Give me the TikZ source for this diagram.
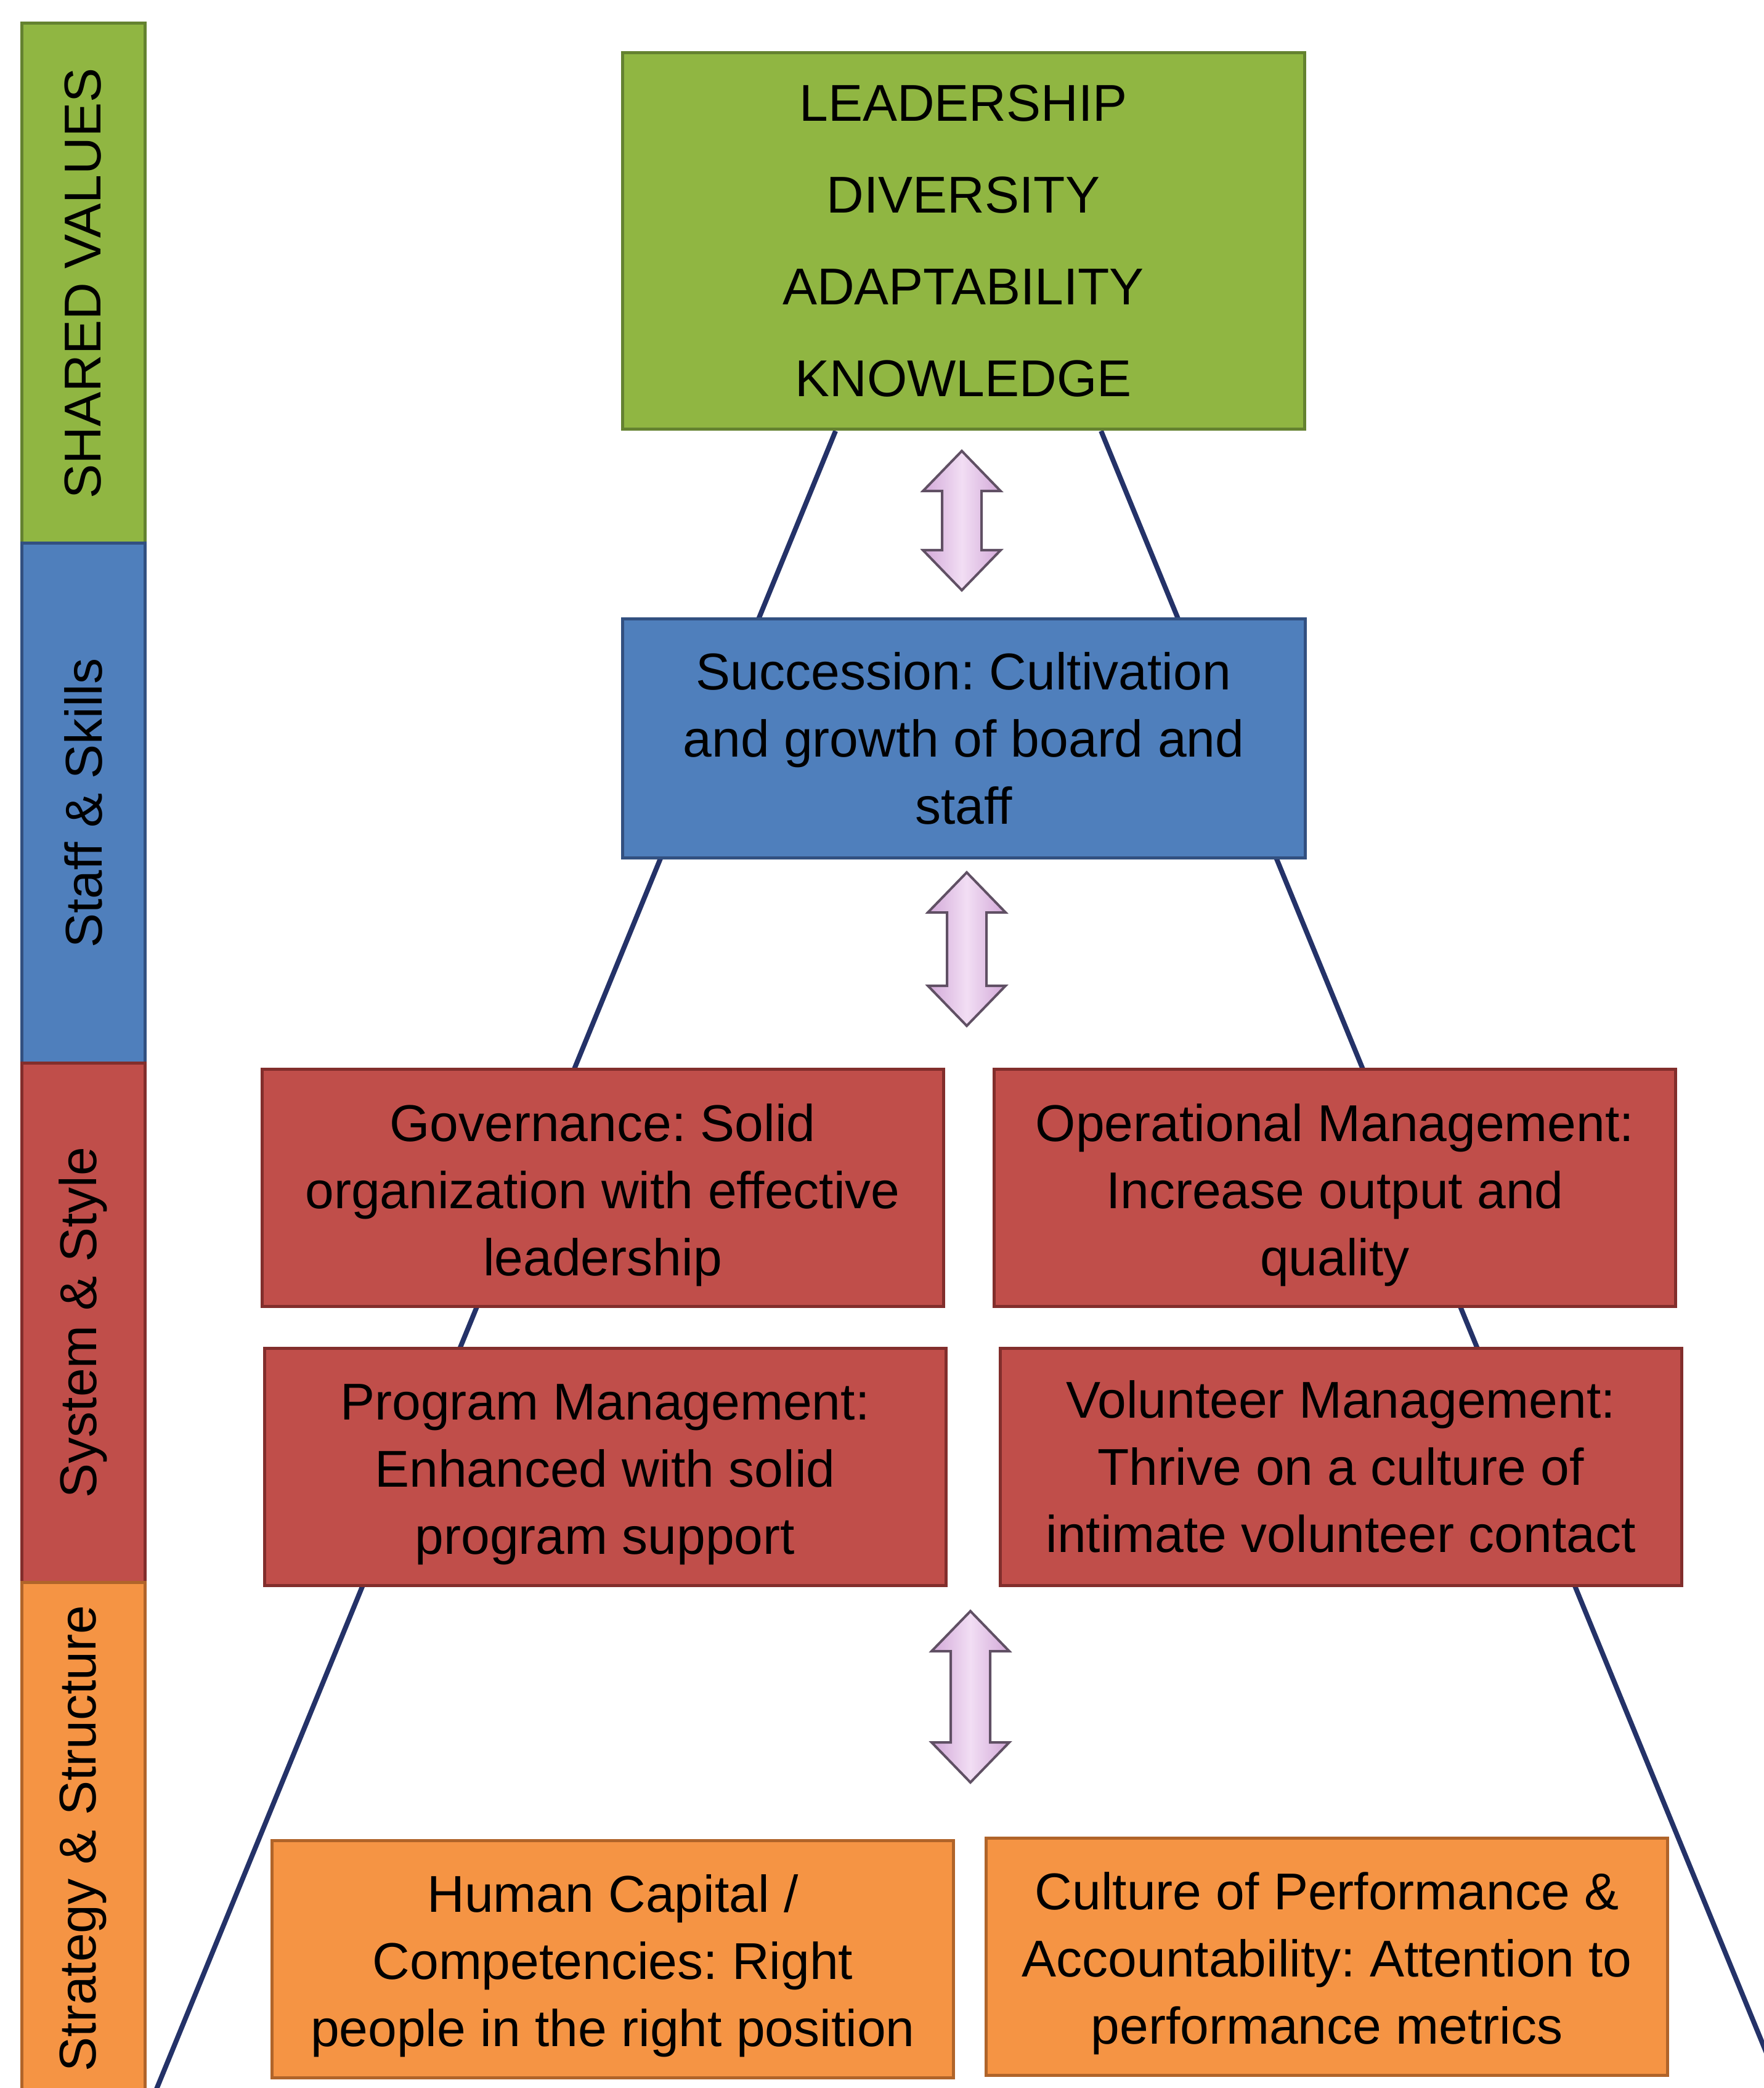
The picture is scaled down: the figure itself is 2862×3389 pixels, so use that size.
\documentclass[tikz,border=0pt]{standalone}
\usepackage{fontspec}
\setmainfont{Liberation Sans}
\usetikzlibrary{calc}
\pgfdeclarelayer{background}
\pgfsetlayers{background,main}
\definecolor{gfill}{RGB}{144,182,66}
\definecolor{gdraw}{RGB}{100,130,48}
\definecolor{bfill}{RGB}{79,127,188}
\definecolor{bdraw}{RGB}{50,80,128}
\definecolor{rfill}{RGB}{192,78,74}
\definecolor{rdraw}{RGB}{130,46,44}
\definecolor{ofill}{RGB}{245,148,68}
\definecolor{odraw}{RGB}{176,100,42}
\definecolor{trunkc}{RGB}{36,50,104}
\definecolor{aedge}{RGB}{210,168,216}
\definecolor{amid}{RGB}{242,222,244}
\definecolor{adraw}{RGB}{96,80,100}
\newcommand\tallstrut{\rule{0pt}{21pt}}
\newcommand\pinkarrow[3]{%
  \draw[parrow] (#1,#2) -- (#1+63,#2+65) -- (#1+32,#2+65) -- (#1+32,#3-65) -- (#1+63,#3-65)
    -- (#1,#3) -- (#1-63,#3-65) -- (#1-32,#3-65) -- (#1-32,#2+65) -- (#1-63,#2+65) -- cycle;}
\begin{document}
\frenchspacing
\begin{tikzpicture}[x=0.25pt,y=-0.25pt,
  txt/.style={font=\fontsize{21}{27.25}\selectfont\frenchspacing, align=center, text=black},
  box/.style={txt, draw, line width=1.25pt, inner sep=0pt,
    minimum width=276.5pt, minimum height=96.25pt},
  greenbox/.style={box, fill=gfill, draw=gdraw},
  bluebox/.style={box, fill=bfill, draw=bdraw},
  redbox/.style={box, fill=rfill, draw=rdraw},
  orangebox/.style={box, fill=ofill, draw=odraw},
  barcell/.style={txt, draw, line width=1.25pt, rotate=90, inner sep=0pt,
    minimum height=50pt},
  trunk/.style={draw=trunkc, line width=2pt},
  parrow/.style={draw=adraw, line width=1pt, line join=miter,
    left color=aedge, right color=aedge, middle color=amid}]
\useasboundingbox (0,0) rectangle (2862,3389);
\clip (0,0) rectangle (2862,3389);

% left category bar
\node[barcell, fill=gfill, draw=gdraw, minimum width=211pt] (barsv) at (135,460) {SHARED VALUES};
\node[barcell, fill=bfill, draw=bdraw, minimum width=210.75pt] (barss) at (135,1303.5) {Staff \& Skills};
\node[barcell, fill=rfill, draw=rdraw, minimum width=210.75pt] (barsy) at (135,2146.5) {System \& Style};
\node[barcell, fill=ofill, draw=odraw, minimum width=208pt] (barst) at (135,2984) {Strategy \& Structure};

% boxes
\node[greenbox, minimum width=276.75pt, minimum height=152.75pt,
  font=\fontsize{21}{37.25}\selectfont] (green) at (1563.5,391.5)
  {LEADERSHIP\\DIVERSITY\\ADAPTABILITY\\KNOWLEDGE};
\node[bluebox, minimum width=277pt, minimum height=96.75pt] (blue) at (1564,1198.5)
  {Succession: Cultivation\\and growth of board and\\staff};
\node[redbox] (gov) at (978,1928)
  {\tallstrut Governance: Solid\\organization with effective\\leadership};
\node[redbox] (ops) at (2166.5,1928)
  {\tallstrut Operational Management:\\Increase output and\\quality};
\node[redbox] (prog) at (982,2380.5)
  {\tallstrut Program Management:\\Enhanced with solid\\program support};
\node[redbox] (vol) at (2176,2380.5)
  {Volunteer Management:\\Thrive on a culture of\\intimate volunteer contact};
\node[orangebox] (human) at (994.5,3179.5)
  {\tallstrut Human Capital /\\Competencies: Right\\people in the right position};
\node[orangebox] (cult) at (2153.5,3175.5)
  {\tallstrut Culture of Performance \&\\Accountability: Attention to\\performance metrics};

% trunk lines behind the boxes
\coordinate (lbot) at (242,3420);
\coordinate (rbot) at (2903,3420);
\begin{pgfonlayer}{background}
  \draw[trunk] ($(green.south west)!0.3135!(green.south east)$) -- (lbot);
  \draw[trunk] ($(green.south west)!0.701!(green.south east)$) -- (rbot);
\end{pgfonlayer}

% double arrows
\pinkarrow{1561}{732}{958}
\pinkarrow{1569}{1416}{1665}
\pinkarrow{1575}{2615}{2893}
\end{tikzpicture}
\end{document}
